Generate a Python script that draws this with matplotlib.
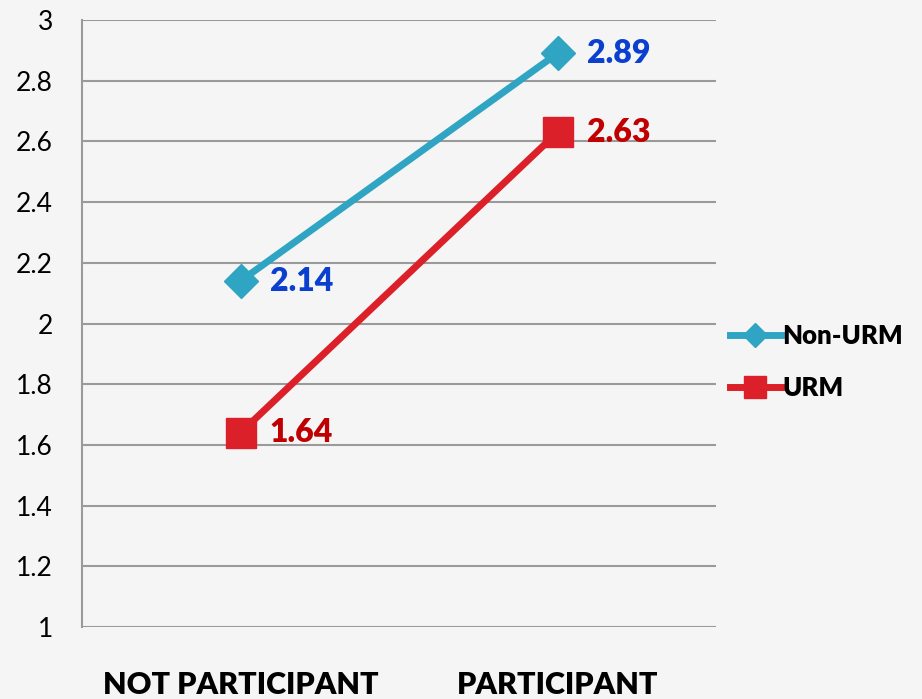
import matplotlib
matplotlib.use("Agg")
import matplotlib.pyplot as plt

categories = ["NOT PARTICIPANT", "PARTICIPANT"]
non_urm = [2.14, 2.89]
urm = [1.64, 2.63]
series_names = ["Non-URM", "URM"]
yticks = [1, 1.2, 1.4, 1.6, 1.8, 2, 2.2, 2.4, 2.6, 2.8, 3]
ytick_labels = ["1", "1.2", "1.4", "1.6", "1.8", "2", "2.2", "2.4", "2.6", "2.8", "3"]

plt.rcParams["font.family"] = ["Lato", "DejaVu Sans"]
bg = "#f5f5f5"

fig = plt.figure(figsize=(9.22, 6.99), dpi=100, facecolor=bg)
ax = fig.add_axes([82 / 922, 1 - 627 / 699, 634 / 922, 607 / 699], facecolor=bg)

x = list(range(len(categories)))
teal = "#2fa5c3"
red = "#dc2029"
ax.plot(x, non_urm, color=teal, lw=5, marker="D", ms=17, mec=teal, mfc=teal,
        label=series_names[0], zorder=3)
ax.plot(x, urm, color=red, lw=5, marker="s", ms=22, mec=red, mfc=red,
        label=series_names[1], zorder=3)

for xi, v in zip(x, non_urm):
    ax.annotate(f"{v:.2f}", (xi, v), xytext=(21, 0), textcoords="offset points",
                ha="left", va="center", fontsize=23, fontweight="heavy", color="#0a3fd0")
for xi, v in zip(x, urm):
    ax.annotate(f"{v:.2f}", (xi, v), xytext=(21, 0), textcoords="offset points",
                ha="left", va="center", fontsize=23, fontweight="heavy", color="#c00000")

ax.set_xlim(-0.5, 1.5)
ax.set_ylim(1, 3)
ax.set_yticks(yticks)
ax.set_yticklabels(ytick_labels, fontsize=19)
ax.set_xticks(x)
ax.set_xticklabels(categories, fontsize=22, fontweight="heavy")
ax.tick_params(axis="y", length=0, pad=21)
ax.tick_params(axis="x", length=0, pad=32)
ax.yaxis.grid(True, color="#9a9a9a", lw=1.5)
ax.set_axisbelow(True)
for s in ["top", "right", "bottom"]:
    ax.spines[s].set_visible(False)
ax.spines["left"].set_color("#9a9a9a")
ax.spines["left"].set_linewidth(1.5)

leg = ax.legend(loc="center left", bbox_to_anchor=(0.985, 0.437), frameon=False,
                prop={"weight": "heavy", "size": 18.5}, handlelength=2.0,
                handletextpad=0.05, labelspacing=1.1, markerscale=0.7)

fig.savefig("out.png", dpi=100, facecolor=bg)
